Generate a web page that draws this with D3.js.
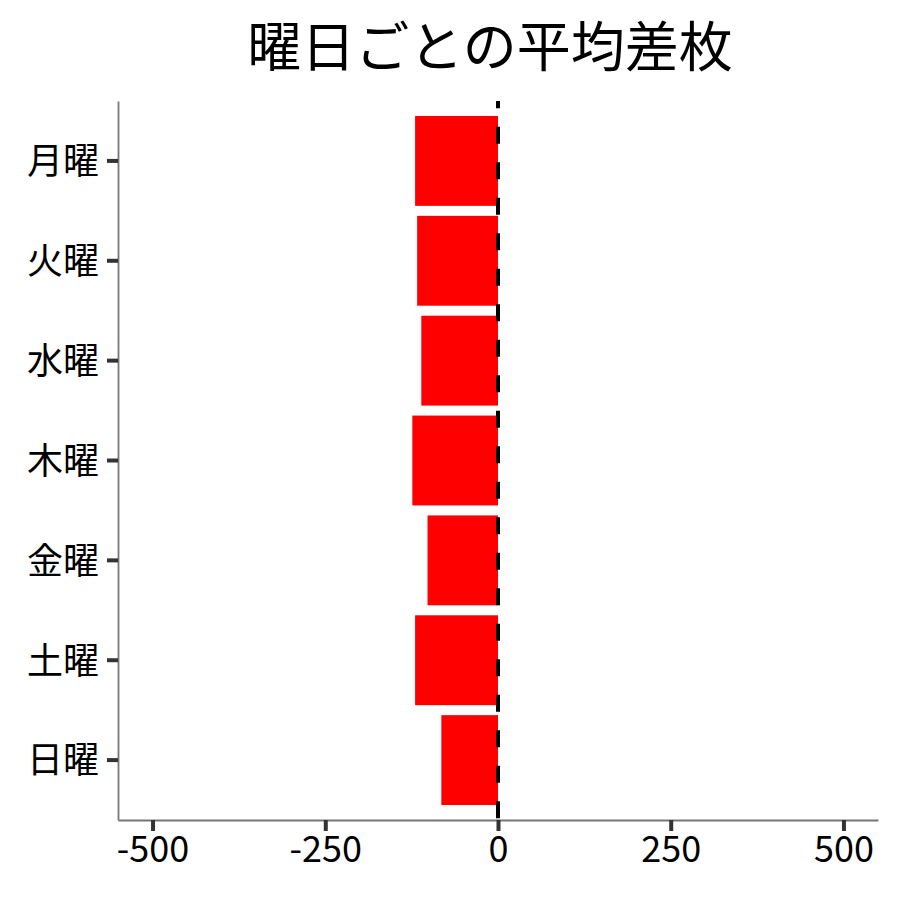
<!DOCTYPE html>
<html>
<head>
<meta charset="utf-8">
<script src="https://cdn.jsdelivr.net/npm/d3@7"></script>
<style>
  body { margin: 0; background: #fff; }
  svg, svg text { font-family: "Noto Sans CJK JP", "Noto Sans", sans-serif; }
</style>
</head>
<body>
<div id="chart"></div>
<script>
const title = "曜日ごとの平均差枚";
const days = ["月曜", "火曜", "水曜", "木曜", "金曜", "土曜", "日曜"];
const diffs = [-120, -117, -111, -124, -102, -120, -82];
const xTicks = [-500, -250, 0, 250, 500];

const width = 900, height = 900;
const margin = {top: 101, right: 22, bottom: 80, left: 118};
const fontFamily = '"Noto Sans CJK JP", "Noto Sans", sans-serif';

const svg = d3.select("#chart").append("svg")
  .attr("width", width)
  .attr("height", height);

const x = d3.scaleLinear()
  .domain([-550, 550])
  .range([margin.left, width - margin.right]);

const y = d3.scaleBand()
  .domain(days)
  .range([margin.top, height - margin.bottom])
  .paddingInner(0.1)
  .paddingOuter(0.15);

// bars
svg.append("g")
  .selectAll("rect")
  .data(days.map((d, i) => ({day: d, value: diffs[i]})))
  .join("rect")
  .attr("x", d => x(Math.min(0, d.value)))
  .attr("width", d => Math.abs(x(d.value) - x(0)))
  .attr("y", d => y(d.day))
  .attr("height", y.bandwidth())
  .attr("fill", "#ff0000");

// zero reference line
svg.append("line")
  .attr("x1", x(0)).attr("x2", x(0))
  .attr("y1", margin.top).attr("y2", height - margin.bottom)
  .attr("stroke", "#000")
  .attr("stroke-width", 4)
  .attr("stroke-dasharray", "17,18.5")
  .attr("stroke-dashoffset", 9.8);

// x axis (plain hyphen for negatives, like the original)
const xAxis = svg.append("g")
  .attr("transform", `translate(0,${height - margin.bottom})`)
  .attr("font-family", fontFamily)
  .call(d3.axisBottom(x).tickValues(xTicks).tickFormat(d => String(d))
    .tickSize(11).tickSizeOuter(0).tickPadding(5));
xAxis.select(".domain").attr("stroke", "#777").attr("stroke-width", 1.8);
xAxis.selectAll(".tick line").attr("stroke", "#333").attr("stroke-width", 4);
xAxis.selectAll(".tick text")
  .attr("fill", "#000")
  .attr("font-size", 36)
  .attr("dy", "0.71em");

// y axis
const yAxis = svg.append("g")
  .attr("transform", `translate(${margin.left},0)`)
  .attr("font-family", fontFamily)
  .call(d3.axisLeft(y).tickSize(11).tickSizeOuter(0).tickPadding(8));
yAxis.select(".domain").attr("stroke", "#777").attr("stroke-width", 1.8);
yAxis.selectAll(".tick line").attr("stroke", "#333").attr("stroke-width", 4);
yAxis.selectAll(".tick text")
  .attr("fill", "#000")
  .attr("font-size", 36)
  .attr("dy", "0.37em");

// title
svg.append("text")
  .attr("x", 490)
  .attr("y", 67)
  .attr("text-anchor", "middle")
  .attr("font-size", 54)
  .attr("fill", "#000")
  .text(title);
</script>
</body>
</html>
